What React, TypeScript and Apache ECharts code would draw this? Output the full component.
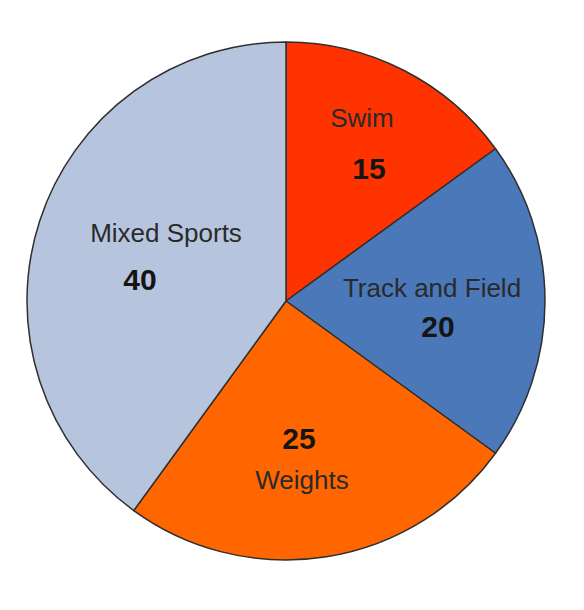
import React, { useEffect, useRef } from "react";
import * as echarts from "echarts";

const categories = ["Swim", "Track and Field", "Weights", "Mixed Sports"];
const values = [15, 20, 25, 40];
const colors = ["#ff3300", "#4a78b8", "#ff6600", "#b7c4de"];

// label block placement (px) and per-label tweaks
const labelPos: [number, number][] = [
  [362, 143],
  [432, 307],
  [302, 459],
  [166, 256],
];
const lineHeights = [50, 38, 42, 47];
const valueShift = [7, 6, -3, -26];
const valueFirst = [false, false, true, false];

export default function App() {
  const ref = useRef<HTMLDivElement>(null);
  useEffect(() => {
    document.body.style.margin = "0";
    const chart = echarts.init(ref.current!, null, { renderer: "svg" });
    const data = categories.map((name, i) => {
      const s = valueShift[i];
      const pad = s >= 0 ? [0, 0, 0, 2 * s] : [0, -2 * s, 0, 0];
      return {
        name,
        value: values[i],
        itemStyle: { color: colors[i] },
        label: {
          formatter: valueFirst[i] ? "{v|{c}}\n{n|{b}}" : "{n|{b}}\n{v|{c}}",
          rich: {
            n: {
              fontFamily: "Liberation Sans, Arial, sans-serif",
              fontSize: 26,
              color: "#2a2a2a",
              lineHeight: lineHeights[i],
              align: "center",
            },
            v: {
              fontFamily: "Liberation Sans, Arial, sans-serif",
              fontSize: 30,
              fontWeight: "bold",
              color: "#151515",
              lineHeight: lineHeights[i],
              align: "center",
              padding: pad,
            },
          },
        },
      };
    });
    chart.setOption({
      animation: false,
      backgroundColor: "#ffffff",
      series: [
        {
          type: "pie",
          center: [286, 301],
          radius: 259,
          startAngle: 90,
          clockwise: true,
          avoidLabelOverlap: false,
          itemStyle: { borderColor: "#2f2f2f", borderWidth: 1.5 },
          label: { show: true, position: "inside" },
          labelLine: { show: false },
          labelLayout: (p: any) => ({
            x: labelPos[p.dataIndex][0],
            y: labelPos[p.dataIndex][1],
            align: "center",
            verticalAlign: "middle",
          }),
          emphasis: { disabled: true },
          data,
        },
      ],
    });
    return () => chart.dispose();
  }, []);
  return <div ref={ref} style={{ width: 584, height: 610 }} />;
}
